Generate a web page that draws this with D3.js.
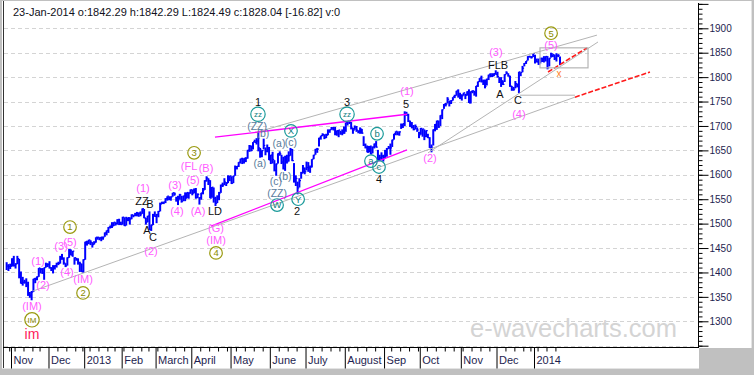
<!DOCTYPE html>
<html>
<head>
<meta charset="utf-8">
<script src="https://cdn.jsdelivr.net/npm/d3@7"></script>
<style>
  html, body { margin: 0; padding: 0; background: #c0c0c0 }
  svg { display: block; font-family: "Liberation Sans", Arial, sans-serif }
</style>
</head>
<body>
<div id="chart"></div>
<script>
// market closed days (weekends are skipped too)
var closedDays = ['2012-10-29','2012-10-30','2012-11-22','2012-12-25','2013-01-01','2013-01-21','2013-02-18',
  '2013-03-29','2013-05-27','2013-07-04','2013-09-02','2013-11-28','2013-12-25','2014-01-01','2014-01-20']

var monthLabels = ['Nov','Dec','2013','Feb','March','April','May','June','July','August','Sep','Oct','Nov','Dec','2014']

// daily close / high / low, 25-Oct-2012 .. 23-Jan-2014
var cl = [
  1412.97,1411.94,1412.16,
  1427.59,1414.20,1417.26,1428.39,1394.53,1377.51,1379.85,1380.03,1374.53,1355.49,1353.33,1359.88,1386.89,1387.81,1391.03,1409.15,1406.29,1398.94,1409.93,1415.95,1416.18,
  1409.46,1407.05,1409.28,1413.94,1418.07,1418.55,1427.84,1428.48,1419.45,1413.58,1430.36,1446.79,1435.81,1443.69,1430.15,1426.66,1419.83,1418.10,1402.43,1426.19,
  1462.42,1459.37,1466.47,1461.89,1457.15,1461.02,1472.12,1472.05,1470.68,1472.34,1472.63,1480.94,1485.98,1492.56,1494.81,1494.82,1502.96,1500.18,1507.84,1501.96,1498.11,
  1513.17,1495.71,1511.29,1512.12,1509.39,1517.93,1517.01,1519.43,1520.33,1521.38,1519.79,1530.94,1511.95,1502.42,1515.60,1487.85,1496.94,1515.99,1514.68,
  1518.20,1525.20,1539.79,1541.46,1544.26,1551.18,1556.22,1552.48,1554.52,1563.23,1560.70,1552.10,1548.34,1558.71,1545.80,1556.89,1551.69,1563.77,1562.85,1569.19,
  1562.17,1570.25,1553.69,1559.98,1553.28,1563.07,1568.61,1587.73,1593.37,1588.85,1552.36,1574.57,1552.01,1541.61,1555.25,1562.50,1578.78,1578.79,1585.16,1582.24,1593.61,1597.57,
  1582.70,1597.59,1614.42,1617.50,1625.96,1632.69,1626.67,1633.70,1633.77,1650.34,1658.78,1650.47,1667.47,1666.29,1669.16,1655.35,1650.51,1649.60,1660.06,1648.36,1654.41,1630.74,
  1640.42,1631.38,1608.90,1622.56,1643.38,1642.81,1626.13,1612.52,1636.36,1626.73,1639.04,1651.81,1628.93,1588.19,1592.43,1573.09,1588.03,1603.26,1613.20,1606.28,
  1614.96,1614.08,1615.41,1631.89,1640.46,1652.32,1652.62,1675.02,1680.19,1682.50,1676.26,1680.91,1689.37,1692.09,1695.53,1692.39,1685.94,1690.25,1691.65,1685.33,1685.96,1685.73,
  1706.87,1709.67,1707.14,1697.37,1690.91,1697.48,1691.42,1689.47,1694.16,1685.39,1661.32,1655.83,1646.06,1652.35,1642.80,1656.96,1663.50,1656.78,1630.48,1634.96,1638.17,1632.97,
  1639.77,1653.08,1655.08,1655.17,1671.71,1683.99,1689.13,1683.42,1687.99,1697.60,1704.76,1725.52,1722.34,1709.91,1701.84,1697.42,1692.77,1698.67,1691.75,1681.55,
  1695.00,1693.87,1678.66,1690.50,1676.12,1655.45,1656.40,1692.56,1703.20,1710.14,1698.06,1721.54,1733.15,1744.50,1744.66,1754.67,1746.38,1752.07,1759.77,1762.11,1771.95,1763.31,1756.54,
  1761.64,1767.93,1762.97,1770.49,1747.15,1770.61,1771.89,1767.69,1782.00,1790.62,1798.18,1791.53,1787.87,1781.37,1795.85,1804.76,1802.48,1802.75,1807.23,1805.81,
  1800.90,1795.15,1792.81,1785.03,1805.09,1808.37,1802.62,1782.22,1775.50,1775.32,1786.54,1781.00,1810.65,1809.60,1818.32,1827.99,1833.32,1842.02,1841.40,1841.07,1848.36,
  1831.98,1831.37,1826.77,1837.88,1837.49,1838.13,1842.37,1819.20,1838.88,1848.38,1845.89,1838.70,1843.80,1844.86,1828.04
]
var hi = [
  1421,1417,1418,
  1429,1434,1419,1434,1428,1402,1391,1385,1388,1381,1360,1362,1387,1389,1392,1409,1409,1409,1410,1420,1419,
  1423,1411,1415,1415,1420,1422,1434,1438,1431,1419,1431,1448,1447,1444,1431,1430,1429,1422,1418,1427,
  1463,1465,1467,1466,1462,1464,1472,1473,1472,1473,1473,1482,1486,1493,1496,1503,1503,1503,1509,1510,1504,
  1514,1513,1514,1512,1513,1519,1518,1522,1524,1523,1525,1531,1530,1512,1516,1525,1498,1520,1525,
  1520,1526,1543,1545,1545,1552,1556,1556,1556,1563,1564,1555,1557,1561,1557,1557,1564,1564,1564,1570,
  1570,1572,1573,1562,1554,1563,1573,1589,1597,1593,1589,1575,1574,1555,1558,1565,1580,1584,1593,1585,1599,1598,
  1597,1598,1619,1618,1626,1633,1635,1634,1636,1651,1661,1660,1667,1672,1675,1687,1655,1650,1674,1656,1662,1657,
  1641,1647,1630,1623,1644,1648,1641,1637,1639,1641,1648,1655,1653,1624,1599,1586,1593,1606,1620,1615,
  1627,1626,1619,1632,1641,1653,1655,1676,1680,1685,1683,1684,1693,1693,1698,1698,1698,1691,1692,1690,1693,1699,
  1707,1710,1710,1708,1696,1701,1700,1691,1697,1694,1679,1664,1660,1659,1660,1658,1664,1669,1651,1641,1646,1641,
  1651,1655,1659,1664,1672,1684,1689,1689,1689,1705,1705,1730,1729,1725,1711,1708,1702,1703,1697,1688,
  1696,1694,1693,1691,1684,1677,1662,1693,1704,1711,1711,1722,1734,1745,1747,1759,1752,1753,1759,1764,1772,1775,1768,
  1765,1768,1766,1771,1775,1771,1773,1772,1782,1791,1798,1803,1795,1795,1797,1805,1808,1808,1808,1814,
  1811,1800,1800,1793,1806,1812,1808,1803,1782,1780,1792,1787,1811,1810,1823,1829,1833,1843,1844,1843,1849,
  1846,1838,1838,1840,1840,1843,1843,1843,1839,1850,1847,1846,1849,1847,1842.29
]
var lo = [
  1405,1403,1407,
  1412,1412,1408,1417,1388,1377,1373,1377,1370,1352,1348,1343,1360,1378,1384,1391,1398,1397,1385,1410,1411,
  1408,1403,1398,1406,1410,1415,1418,1426,1416,1411,1414,1430,1435,1432,1416,1424,1416,1401,1401,1399,
  1426,1455,1458,1456,1451,1457,1461,1467,1466,1464,1467,1473,1476,1481,1490,1491,1495,1496,1498,1497,1497,
  1498,1495,1496,1505,1498,1509,1513,1515,1515,1514,1515,1520,1511,1498,1503,1487,1485,1497,1514,
  1501,1513,1525,1540,1540,1542,1547,1548,1547,1555,1557,1545,1538,1549,1543,1546,1546,1552,1551,1561,
  1558,1562,1551,1552,1539,1549,1560,1569,1586,1579,1552,1553,1543,1536,1542,1548,1563,1575,1579,1577,1583,1587,
  1581,1583,1598,1611,1616,1623,1622,1623,1626,1633,1647,1648,1652,1666,1662,1648,1635,1636,1652,1640,1646,1630,
  1622,1623,1607,1598,1623,1639,1622,1611,1608,1623,1627,1639,1628,1584,1577,1560,1574,1592,1603,1601,
  1609,1606,1604,1615,1632,1641,1645,1658,1672,1679,1673,1675,1681,1686,1692,1691,1681,1680,1677,1682,1681,1684,
  1688,1701,1704,1693,1684,1692,1688,1685,1684,1684,1659,1654,1646,1646,1642,1644,1654,1656,1630,1628,1630,1627,
  1634,1637,1653,1641,1657,1672,1681,1681,1680,1694,1696,1700,1721,1708,1698,1695,1691,1693,1688,1675,
  1682,1678,1671,1677,1675,1655,1646,1660,1689,1692,1696,1700,1714,1735,1740,1746,1740,1745,1752,1757,1762,1758,1755,
  1752,1762,1755,1762,1747,1746,1767,1762,1760,1780,1790,1789,1784,1777,1783,1794,1800,1800,1802,1805,
  1799,1788,1780,1784,1790,1806,1801,1780,1772,1772,1777,1779,1767,1802,1810,1822,1827,1834,1840,1838,1841,
  1828,1830,1825,1828,1831,1830,1832,1816,1822,1840,1841,1835,1832,1841,1824.49
]

// wave labels: [text, bar number, price]
var magentaLabels = [
  ['(1)',17.6,1423],['(2)',20.4,1374],['(3)',30.5,1454],['(5)',35.5,1462],['(4)',33.8,1401],
  ['(IM)',14.2,1331],['(IM)',42.8,1387],['(1)',76.4,1573],['(2)',80.9,1444],['(3)',94.3,1579],
  ['(4)',95.4,1526],['(A)',107.2,1526],['(5)',104.4,1589],['(FL',102.2,1618],['(B)',111.7,1614],
  ['(G)',117.3,1491],['(IM)',117.3,1466],['(1)',224.3,1772],['(2)',237.2,1634],['(3)',274.1,1851],
  ['(4)',287,1724],['(5)',305,1866]
]
var blackLabels = [
  ['1',140.8,1749],['2',162.7,1526],['3',190.7,1749],['4',208.6,1591],['5',223.7,1745],
  ['ZZ',75.8,1546],['B',80.3,1540],['A',78.6,1487],['C',82,1473],['LD',116.7,1526],
  ['FLB',275.3,1825],['A',276.4,1765],['C',286.5,1753]
]
var oliveCircles = [['1',35.5,1493],['2',42.8,1358],['IM',14.2,1303],['3',105,1645],['4',117.3,1440],['5',305,1890]]
var tealCircles = [
  ['zz',140.8,1724],['X',159.3,1690],['W',151.5,1538],['Y',163.3,1550],
  ['zz',190.7,1724],['b',207.5,1684],['a',204.1,1628],['c',208.6,1616]
]
var slateLabels = [
  ['(ZZ)',140.3,1700],['(b)',143.6,1686],['(a)',141.9,1624],['(a)',152.6,1665],
  ['(c)',159.3,1667],['(c)',150.9,1587],['(b)',156,1598],['(ZZ)',151.5,1563]
]
var redLabels = [['im',14.2,1274]]
var orangeMarks = [['x',309.4,1808]]

// trend lines: [bar1, price1, bar2, price2]
var grayLines = [[14.8,1362,318.4,1759],[140.8,1688,330.7,1886],[236.1,1645,331.3,1872],[287.6,1763,318.4,1763]]
var magentaLines = [[114.5,1495,224.3,1651],[116.7,1677,224.3,1724]]
var redDashLines = [[318.4,1759,360.4,1810.5],[303.3,1810.5,325.1,1860]]
var boxes = [[298.8,1860,325.7,1819]]

var header = '23-Jan-2014  o:1842.29 h:1842.29 L:1824.49 c:1828.04 [-16.82] v:0'

// trading days
var days = []
for (var t = Date.UTC(2012, 9, 25); t <= Date.UTC(2014, 0, 23); t += 864e5) {
  var dt = new Date(t), s = dt.toISOString().slice(0, 10), wd = dt.getUTCDay()
  if (wd > 0 && wd < 6 && closedDays.indexOf(s) < 0) days.push(s)
}

var W = 754, H = 375
var svg = d3.select('#chart').append('svg').attr('width', W).attr('height', H)

var x = d3.scaleLinear().domain([3, 296]).range([12, 535])
var y = d3.scaleLinear().domain([1250, 1900]).range([345.7, 28.3])

// panels
svg.append('rect').attr('width', W).attr('height', H).attr('fill', '#c0c0c0')
svg.append('rect').attr('x', 2).attr('y', 1).attr('width', 749).attr('height', 347).attr('fill', '#fff')
svg.append('rect').attr('x', 2).attr('y', 347).attr('width', 697).attr('height', 21).attr('fill', '#fff')
svg.append('line').attr('x1', 751.5).attr('x2', 751.5).attr('y1', 1).attr('y2', 348).attr('stroke', '#e4e4e4')
svg.append('line').attr('x1', 2).attr('x2', 699).attr('y1', 368.5).attr('y2', 368.5).attr('stroke', '#e4e4e4')

// grid
svg.append('g').selectAll('line').data(d3.range(1250, 1901, 50)).join('line')
  .attr('x1', 4).attr('x2', 697)
  .attr('y1', function (d) { return Math.round(y(d)) + 0.5 })
  .attr('y2', function (d) { return Math.round(y(d)) + 0.5 })
  .attr('stroke', '#d4d4d4').attr('stroke-dasharray', '4,3')

// watermark
svg.append('text').attr('x', 470).attr('y', 337).attr('font-size', 25.5).attr('fill', '#d4d4d4')
  .text('e-wavecharts.com')

// price bars
var bars = svg.append('g')
bars.selectAll('line.hl').data(cl).join('line').attr('class', 'hl')
  .attr('x1', function (d, i) { return x(i) }).attr('x2', function (d, i) { return x(i) })
  .attr('y1', function (d, i) { return y(hi[i]) }).attr('y2', function (d, i) { return y(lo[i]) })
  .attr('stroke', '#0000ff').attr('stroke-width', 2)
bars.selectAll('line.c').data(cl).join('line').attr('class', 'c')
  .attr('x1', function (d, i) { return x(i) }).attr('x2', function (d, i) { return x(i) + 1.6 })
  .attr('y1', function (d) { return y(d) }).attr('y2', function (d) { return y(d) })
  .attr('stroke', '#0000ff').attr('stroke-width', 1.2)

// trend lines
function seg (g, rows, color, w, dash) {
  g.selectAll(null).data(rows).enter().append('line')
    .attr('x1', function (d) { return x(d[0]) }).attr('y1', function (d) { return y(d[1]) })
    .attr('x2', function (d) { return x(d[2]) }).attr('y2', function (d) { return y(d[3]) })
    .attr('stroke', color).attr('stroke-width', w).attr('stroke-dasharray', dash || null)
}
var lines = svg.append('g')
seg(lines, grayLines, '#b4b4b4', 1)
seg(lines, magentaLines, '#ff00ff', 1.3)
seg(lines, redDashLines, '#ff1a1a', 1.6, '5,2')
lines.selectAll(null).data(boxes).enter().append('rect')
  .attr('x', function (d) { return x(d[0]) }).attr('y', function (d) { return y(d[1]) })
  .attr('width', function (d) { return x(d[2]) - x(d[0]) }).attr('height', function (d) { return y(d[3]) - y(d[1]) })
  .attr('fill', 'none').attr('stroke', '#b4b4b4').attr('stroke-width', 1.2)

// labels
function labels (rows, color, size) {
  svg.append('g').selectAll('text').data(rows).join('text')
    .attr('x', function (d) { return x(d[1]) }).attr('y', function (d) { return y(d[2]) })
    .attr('dy', '0.36em').attr('text-anchor', 'middle')
    .attr('font-size', size).attr('fill', color)
    .text(function (d) { return d[0] })
}
function circled (rows, color, textColor) {
  var g = svg.append('g').selectAll('g').data(rows).join('g')
    .attr('transform', function (d) { return 'translate(' + x(d[1]) + ',' + y(d[2]) + ')' })
  g.append('circle').attr('r', function (d) { return d[0].length > 1 ? 7.2 : 6.3 })
    .attr('fill', 'none').attr('stroke', color).attr('stroke-width', 1.2)
  g.append('text').attr('dy', '0.35em').attr('text-anchor', 'middle')
    .attr('font-size', function (d) { return d[0].length > 1 ? 8 : 9.5 }).attr('fill', textColor)
    .text(function (d) { return d[0] })
}
labels(magentaLabels, '#ff5cff', 11)
labels(blackLabels, '#111', 11)
labels(slateLabels, '#5a7c9c', 10.5)
labels(redLabels, '#ff1a5a', 14)
labels(orangeMarks, '#ff7f27', 10)
circled(oliveCircles, '#9a9a10', '#8a8a00')
circled(tealCircles, '#1a9a9a', '#108080')

// frame lines
svg.append('line').attr('x1', 3.5).attr('x2', 3.5).attr('y1', 1).attr('y2', 368).attr('stroke', '#333')
svg.append('line').attr('x1', 3).attr('x2', 699).attr('y1', 347.5).attr('y2', 347.5).attr('stroke', '#000')
svg.append('line').attr('x1', 698.5).attr('x2', 698.5).attr('y1', 3).attr('y2', 348).attr('stroke', '#000')

// y axis
var gy1 = svg.append('g').attr('transform', 'translate(698.5,0)')
  .call(d3.axisRight(y).tickValues(d3.range(1250, 1951, 10)).tickSize(4).tickSizeOuter(0).tickFormat(''))
var gy2 = svg.append('g').attr('transform', 'translate(698.5,0)')
  .call(d3.axisRight(y).tickValues(d3.range(1250, 1951, 50)).tickSize(10).tickSizeOuter(0)
    .tickFormat(function (d) { return d >= 1300 && d <= 1900 ? d : '' }))
gy1.select('.domain').remove()
gy2.select('.domain').remove()
gy2.selectAll('text').attr('x', 11).attr('font-size', 10).attr('font-family', '"Liberation Sans", Arial, sans-serif')
  .attr('fill', '#1e1e50')

// x axis: month separators and week ticks
var monthStarts = [], weekStarts = []
days.forEach(function (d, i) {
  if (i === 0) return
  var prev = new Date(days[i - 1] + 'T00:00:00Z'), cur = new Date(d + 'T00:00:00Z')
  if (d.slice(0, 7) !== days[i - 1].slice(0, 7)) monthStarts.push(i)
  else if (cur.getUTCDay() < prev.getUTCDay()) weekStarts.push(i)
})
var xa = x.copy().range([11, 534])
var gx1 = svg.append('g').attr('transform', 'translate(0,347.5)')
  .call(d3.axisBottom(xa).tickValues(weekStarts).tickSize(4).tickSizeOuter(0).tickFormat(''))
var gx2 = svg.append('g').attr('transform', 'translate(0,347.5)')
  .call(d3.axisBottom(xa).tickValues(monthStarts).tickSize(21).tickSizeOuter(0)
    .tickFormat(function (d, k) { return monthLabels[k] }))
gx1.select('.domain').remove()
gx2.select('.domain').remove()
gx2.selectAll('text').attr('x', 2).attr('y', 9).attr('text-anchor', 'start').attr('font-size', 11)
  .attr('font-family', '"Liberation Sans", Arial, sans-serif').attr('fill', '#1e1e50')

// header
svg.append('text').attr('x', 13).attr('y', 15.5).attr('font-size', 11).attr('fill', '#101020').text(header)
</script>
</body>
</html>
